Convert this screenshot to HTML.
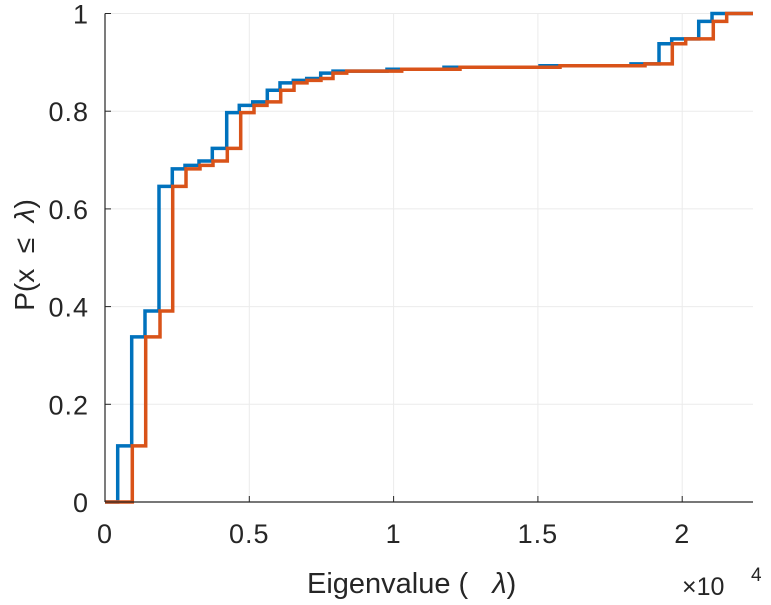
<!DOCTYPE html>
<html><head><meta charset="utf-8"><style>
html,body{margin:0;padding:0;background:#fff;}
svg text{font-family:"Liberation Sans","DejaVu Sans",sans-serif;fill:#262626;}
</style></head><body>
<svg id="chart" width="771" height="600" viewBox="0 0 771 600" xmlns="http://www.w3.org/2000/svg">
<g id="grid"></g>
<g id="series"></g>
<g id="axes"></g>
<text x="307" y="593" font-size="29">Eigenvalue (&#160;&#160;&#160;<tspan font-style="italic">λ</tspan>)</text>
<text x="682" y="595" font-size="25">×10</text>
<text x="751" y="581" font-size="19">4</text>
<text transform="translate(34,255) rotate(-90)" font-size="28" text-anchor="middle">P(x &#160;≤ &#160;<tspan font-style="italic">λ</tspan>)</text>
</svg>
<script>
const xTicks = [0, 5000, 10000, 15000, 20000];
const xTickLabels = ["0", "0.5", "1", "1.5", "2"];
const yTicks = [0, 0.2, 0.4, 0.6, 0.8, 1];
const yTickLabels = ["0", "0.2", "0.4", "0.6", "0.8", "1"];
const levels = [0.115,0.338,0.391,0.646,0.682,0.689,0.698,0.724,0.797,0.812,0.819,0.843,0.858,0.863,0.867,0.878,0.882,0.886,0.890,0.893,0.897,0.938,0.948,0.984,1.0];
const blueX = [440,925,1386,1871,2332,2772,3257,3718,4217,4653,5118,5624,6064,6525,6989,7474,7900,9771,11746,15073,18226,19196,19636,20572,21033];
const orangeX = [946,1410,1906,2346,2807,3292,3742,4238,4702,5163,5613,6088,6549,6999,7484,7900,8375,10281,12301,15766,18711,19657,20121,21077,21541];
const xMin = 0, xMax = 22453, yMin = 0, yMax = 1;
const L = 105, R = 753, T = 13.5, B = 502;
const sx = v => L + (v - xMin) / (xMax - xMin) * (R - L);
const sy = v => B - (v - yMin) / (yMax - yMin) * (B - T);
const NS = "http://www.w3.org/2000/svg";
const grid = document.getElementById('grid');
const axes = document.getElementById('axes');
const series = document.getElementById('series');
function mk(tag, attrs, parent){const e=document.createElementNS(NS,tag);for(const k in attrs)e.setAttribute(k,attrs[k]);parent.appendChild(e);return e;}
xTicks.forEach((t,i)=>{
  const g = mk('line',{x1:sx(t),x2:sx(t),y1:T,y2:B,stroke:'#ebebeb','stroke-width':1},grid);
  
  
  const tk = mk('line',{x1:sx(t),x2:sx(t),y1:B,y2:B-6,stroke:'#262626','stroke-width':1},axes);
  
  
  const lb = mk('text',{x:sx(t),y:543,'font-size':27,'letter-spacing':1,'text-anchor':'middle'},axes);
  lb.textContent = xTickLabels[i];
  
  
});
yTicks.forEach((t,i)=>{
  const g = mk('line',{x1:L,x2:R,y1:sy(t),y2:sy(t),stroke:'#ebebeb','stroke-width':1},grid);
  
  
  const tk = mk('line',{x1:L,x2:L+6,y1:sy(t),y2:sy(t),stroke:'#262626','stroke-width':1},axes);
  
  
  const lb = mk('text',{x:L-16,y:sy(t)+10,'font-size':27,'letter-spacing':1,'text-anchor':'end'},axes);
  lb.textContent = yTickLabels[i];
  
  
});
const ax1 = mk('line',{x1:L,x2:L,y1:T,y2:B,stroke:'#262626','stroke-width':1.2},axes);


const ax2 = mk('line',{x1:L,x2:R,y1:B,y2:B,stroke:'#262626','stroke-width':1.2},axes);


function stairs(xs, color, name){
  let d = 'M' + sx(xMin) + ',' + sy(0);
  let prevY = 0;
  xs.forEach((x,i)=>{ d += ' L' + sx(x) + ',' + sy(prevY) + ' L' + sx(x) + ',' + sy(levels[i]); prevY = levels[i]; });
  d += ' L' + sx(xMax) + ',' + sy(prevY);
  const p = mk('path',{d:d,fill:'none',stroke:color,'stroke-width':3.5,'stroke-linejoin':'miter'},series);
  
  
}
stairs(blueX,'#0072BD','blue-cdf-line');
stairs(orangeX,'#D95319','orange-cdf-line');
</script>
</body></html>
